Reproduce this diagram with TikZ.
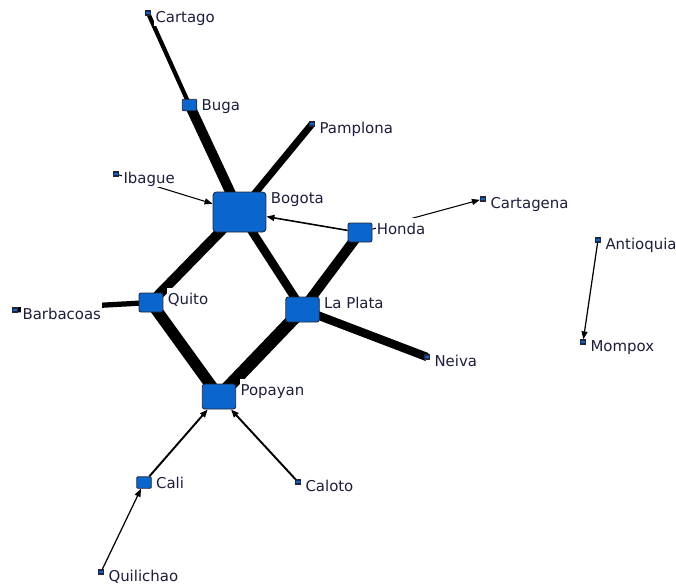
\documentclass[tikz,border=0pt]{standalone}
\usepackage{fontspec}
\setmainfont{DejaVu Sans}
\definecolor{TownBlue}{HTML}{0A66CC}
\definecolor{TownRim}{HTML}{24243A}
\definecolor{LabelInk}{HTML}{1E1E3C}
\usetikzlibrary{arrows.meta,positioning,backgrounds}

\begin{document}
\begin{tikzpicture}[x=0.02cm, y=-0.02cm,
    town/.style={rectangle, draw=TownRim, fill=TownBlue, line width=0.5pt, inner sep=0pt},
    hub/.style={town, rounded corners=0.07cm, minimum width=1.06cm, minimum height=0.8cm},
    big/.style={town, rounded corners=0.05cm, minimum width=0.67cm, minimum height=0.5cm},
    mid/.style={town, rounded corners=0.04cm, minimum width=0.48cm, minimum height=0.38cm},
    minor/.style={town, rounded corners=0.02cm, minimum width=0.29cm, minimum height=0.23cm},
    leaf/.style={town, line width=0.7pt, minimum width=0.1cm, minimum height=0.08cm},
    lbl/.style={anchor=north west, fill=white, inner sep=0.6pt, text height=9pt, text depth=1.3pt,
        xshift=0.06cm, yshift=3pt, font=\fontsize{8.5}{10}\selectfont, text=LabelInk},
    tag/.style={label={[lbl]north east:#1}},
    tie/.style={line width=#1, draw=black},
    flow/.style={-{Triangle[length=0.16cm,width=0.12cm]}, line width=#1, draw=black},
]
    \useasboundingbox (0,0) rectangle (676,586);

    % towns
    \node[leaf, tag=Cartago] (cartago) at (148,13) {};
    \node[minor, tag=Buga] (buga) at (189.5,105) {};
    \node[leaf, tag=Pamplona] (pamplona) at (312,124) {};
    \node[leaf, tag=Ibague] (ibague) at (116,174) {};
    \node[hub, tag=Bogota] (bogota) at (239.5,212) {};
    \node[mid, tag=Honda] (honda) at (360,232.5) {};
    \node[leaf, tag=Cartagena] (cartagena) at (483,199) {};
    \node[leaf, tag=Antioquia] (antioquia) at (598,240) {};
    \node[leaf, tag=Mompox] (mompox) at (583,342) {};
    \node[mid, tag=Quito] (quito) at (151,302.5) {};
    \node[leaf, tag=Barbacoas] (barbacoas) at (15,310) {};
    \node[big, tag=La Plata] (laplata) at (302.5,309.5) {};
    \node[leaf, tag=Neiva] (neiva) at (427,357) {};
    \node[big, tag=Popayan] (popayan) at (219,396.5) {};
    \node[minor, tag=Cali] (cali) at (144,482.5) {};
    \node[leaf, tag=Caloto] (caloto) at (298,482) {};
    \node[leaf, tag=Quilichao] (quilichao) at (101,572) {};

    \begin{scope}[on background layer]
        % strong ties
        \draw[tie=2.4pt] (cartago.center) -- (buga.center);
        \draw[tie=5.7pt] (buga.center) -- (bogota.center);
        \draw[tie=4pt] (pamplona.center) -- (bogota.center);
        \draw[tie=5.7pt] (bogota.center) -- (quito.center);
        \draw[tie=4.8pt] (bogota.center) -- (laplata.center);
        \draw[tie=5.7pt] (honda.center) -- (laplata.center);
        \draw[tie=4.8pt] (laplata.center) -- (neiva.center);
        \draw[tie=7.2pt] (laplata.center) -- (popayan.center);
        \draw[tie=6.5pt] (quito.center) -- (popayan.center);
        \draw[tie=3pt] (barbacoas.center) -- (quito.center);

        % one-way flows
        \draw[flow=0.6pt] (ibague) -- (bogota);
        \draw[flow=0.9pt] (honda) -- (bogota);
        \draw[flow=0.6pt] (honda) -- (cartagena);
        \draw[flow=0.7pt] (antioquia) -- (mompox);
        \draw[flow=1.1pt] (cali) -- (popayan);
        \draw[flow=1.1pt] (caloto) -- (popayan);
        \draw[flow=0.7pt] (quilichao) -- (cali);
    \end{scope}
\end{tikzpicture}
\end{document}
